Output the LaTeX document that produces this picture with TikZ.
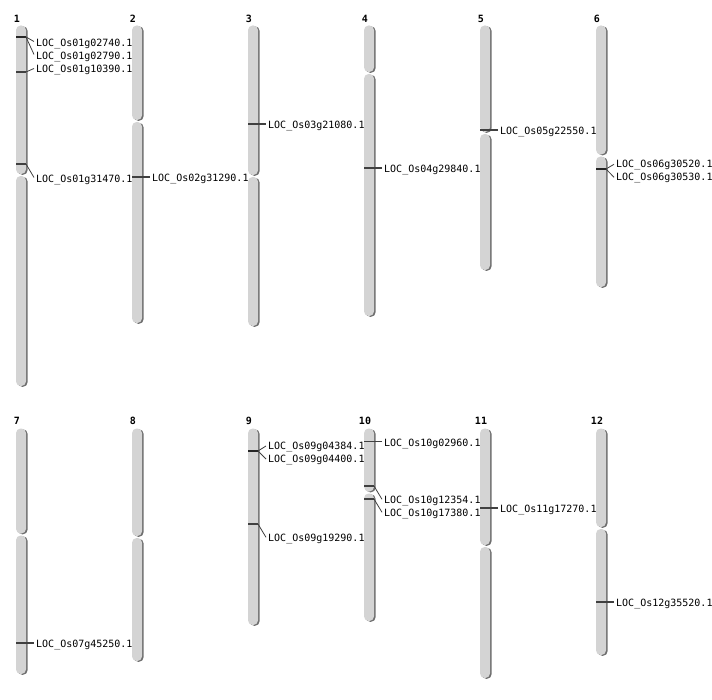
\documentclass[tikz,border=0pt]{standalone}
\usepackage{fontspec}
\newfontfamily\labfont{DejaVu Sans Mono}
\newfontfamily\numfont{DejaVu Sans Mono Bold}
\begin{document}
\definecolor{chrfill}{HTML}{D4D4D4}
\definecolor{chrshade}{HTML}{6E6E6E}
\definecolor{mk}{HTML}{404040}
\newcommand\chrarm[3]{%
  \fill[chrshade, rounded corners=4.6pt] (#1+1.6,#2+0.8) rectangle (#1+11.6,#3+0.8);
  \fill[chrfill, rounded corners=4.6pt] (#1,#2) rectangle (#1+10,#3);
}
\newcommand\chrom[4]{\chrarm{#1}{#2}{#3-1}\chrarm{#1}{#3+1}{#4}}
\begin{tikzpicture}[x=1pt,y=-1pt,
  lab/.style={font=\labfont\fontsize{10}{12}\selectfont, inner sep=0pt, anchor=west, text height=7.3pt, text depth=0pt},
  num/.style={font=\numfont\fontsize{10}{12}\selectfont, inner sep=0pt, text height=7.3pt, text depth=0pt},
  marker/.style={draw=mk, line width=1.1pt},
  dmarker/.style={draw=black!85, line width=1.8pt},
  conn/.style={draw=mk, line width=0.8pt}]
\useasboundingbox (0,0) rectangle (712,700);
% chromosomes
\chrom{16}{25.5}{175}{386}
\chrom{132}{25.5}{121}{323}
\chrom{248}{25.5}{176}{326}
\chrom{364}{25.5}{73}{316}
\chrom{480}{25.5}{133}{270}
\chrom{596}{25.5}{155.5}{287}
\chrom{16}{428.5}{534.5}{674}
\chrom{132}{428.5}{537}{661}
\chrarm{248}{428.5}{625}
\chrom{364}{428.5}{492.5}{621}
\chrom{480}{428.5}{546}{678}
\chrom{596}{428.5}{528}{655}
% numbers
\node[num] (n1) at (17,18.5) {1};
\node[num] (n2) at (133,18.5) {2};
\node[num] (n3) at (249,18.5) {3};
\node[num] (n4) at (365,18.5) {4};
\node[num] (n5) at (481,18.5) {5};
\node[num] (n6) at (597,18.5) {6};
\node[num] (n7) at (17,420.5) {7};
\node[num] (n8) at (133,420.5) {8};
\node[num] (n9) at (249,420.5) {9};
\node[num] (n10) at (365,420.5) {10};
\node[num] (n11) at (481,420.5) {11};
\node[num] (n12) at (597,420.5) {12};
% ---------- chromosome 1
\coordinate (m1a0) at (16,37); \coordinate (m1a) at (26,37);
\coordinate (m1b0) at (16,72); \coordinate (m1b) at (26,72);
\coordinate (m1c0) at (16,164); \coordinate (m1c) at (26,164);
\node[lab] (l1a) at (36,42.5) {LOC\_Os01g02740.1};
\node[lab] (l1b) at (36,55.5) {LOC\_Os01g02790.1};
\node[lab] (l1c) at (36,68.5) {LOC\_Os01g10390.1};
\node[lab] (l1d) at (36,178.5) {LOC\_Os01g31470.1};
\draw[dmarker] (m1a0) -- (m1a);
\draw[marker] (m1b0) -- (m1b);
\draw[marker] (m1c0) -- (m1c);
\draw[conn] (m1a) -- ([xshift=-2pt,yshift=1pt]l1a.west);
\draw[conn] (m1a) -- ([xshift=-2pt,yshift=1pt]l1b.west);
\draw[conn] (m1b) -- ([xshift=-2pt,yshift=0pt]l1c.west);
\draw[conn] (m1c) -- ([xshift=-2pt,yshift=1pt]l1d.west);
% ---------- chromosome 2
\coordinate (m2a0) at (132,177);
\node[lab] (l2a) at (152,178.3) {LOC\_Os02g31290.1};
\draw[marker] (m2a0) -- ([xshift=-2pt]m2a0 -| l2a.west);
% ---------- chromosome 3
\coordinate (m3a0) at (248,124);
\node[lab] (l3a) at (268,125.3) {LOC\_Os03g21080.1};
\draw[marker] (m3a0) -- ([xshift=-2pt]m3a0 -| l3a.west);
% ---------- chromosome 4
\coordinate (m4a0) at (364,168);
\node[lab] (l4a) at (384,169.3) {LOC\_Os04g29840.1};
\draw[marker] (m4a0) -- ([xshift=-2pt]m4a0 -| l4a.west);
% ---------- chromosome 5
\coordinate (m5a0) at (480,130);
\node[lab] (l5a) at (500,131.3) {LOC\_Os05g22550.1};
\draw[marker] (m5a0) -- ([xshift=-2pt]m5a0 -| l5a.west);
% ---------- chromosome 6
\coordinate (m6a0) at (596,169); \coordinate (m6a) at (606,169);
\node[lab] (l6a) at (616,164.3) {LOC\_Os06g30520.1};
\node[lab] (l6b) at (616,177.3) {LOC\_Os06g30530.1};
\draw[dmarker] (m6a0) -- (m6a);
\draw[conn] (m6a) -- ([xshift=-2pt]l6a.west);
\draw[conn] (m6a) -- ([xshift=-2pt]l6b.west);
% ---------- chromosome 7
\coordinate (m7a0) at (16,643);
\node[lab] (l7a) at (36,644.3) {LOC\_Os07g45250.1};
\draw[marker] (m7a0) -- ([xshift=-2pt]m7a0 -| l7a.west);
% ---------- chromosome 9
\coordinate (m9a0) at (248,451); \coordinate (m9a) at (258,451);
\coordinate (m9b0) at (248,524); \coordinate (m9b) at (258,524);
\node[lab] (l9a) at (268,446) {LOC\_Os09g04384.1};
\node[lab] (l9b) at (268,459) {LOC\_Os09g04400.1};
\node[lab] (l9c) at (268,538.3) {LOC\_Os09g19290.1};
\draw[dmarker] (m9a0) -- (m9a);
\draw[marker] (m9b0) -- (m9b);
\draw[conn] (m9a) -- ([xshift=-2pt]l9a.west);
\draw[conn] (m9a) -- ([xshift=-2pt]l9b.west);
\draw[conn] (m9b) -- ([xshift=-2pt,yshift=1pt]l9c.west);
% ---------- chromosome 10
\coordinate (m10a0) at (364,441.5);
\coordinate (m10b0) at (364,486); \coordinate (m10b) at (374,486);
\coordinate (m10c0) at (364,499); \coordinate (m10c) at (374,499);
\node[lab] (l10a) at (384,443) {LOC\_Os10g02960.1};
\node[lab] (l10b) at (384,500.3) {LOC\_Os10g12354.1};
\node[lab] (l10c) at (384,513.3) {LOC\_Os10g17380.1};
\draw[marker] (m10a0) -- ([xshift=-2pt]m10a0 -| l10a.west);
\draw[marker] (m10b0) -- (m10b);
\draw[marker] (m10c0) -- (m10c);
\draw[conn] (m10b) -- ([xshift=-2pt,yshift=1pt]l10b.west);
\draw[conn] (m10c) -- ([xshift=-2pt,yshift=1pt]l10c.west);
% ---------- chromosome 11
\coordinate (m11a0) at (480,508);
\node[lab] (l11a) at (500,509.3) {LOC\_Os11g17270.1};
\draw[marker] (m11a0) -- ([xshift=-2pt]m11a0 -| l11a.west);
% ---------- chromosome 12
\coordinate (m12a0) at (596,602);
\node[lab] (l12a) at (616,603.3) {LOC\_Os12g35520.1};
\draw[marker] (m12a0) -- ([xshift=-2pt]m12a0 -| l12a.west);
\end{tikzpicture}
\end{document}
